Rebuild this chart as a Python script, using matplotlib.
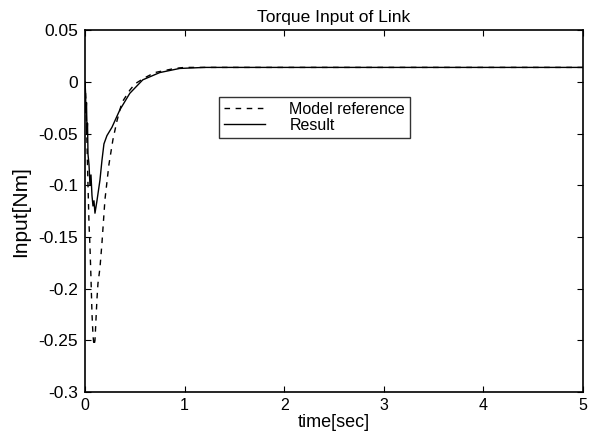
import matplotlib
matplotlib.use("Agg")
import matplotlib.pyplot as plt

plt.rcParams['font.family'] = ['Liberation Sans', 'DejaVu Sans']

t_model = [0, 0.01, 0.02, 0.03, 0.04, 0.05, 0.06, 0.07, 0.08, 0.09, 0.10, 0.11, 0.12, 0.13,
           0.15, 0.17, 0.2, 0.24, 0.28, 0.32, 0.37, 0.45, 0.5, 0.6, 0.7, 0.8, 0.9,
           1.0, 1.2, 5.0]
model = [0, -0.02, -0.06, -0.10, -0.137, -0.16, -0.19, -0.224, -0.245, -0.255, -0.25, -0.23,
         -0.21, -0.195, -0.18, -0.156, -0.114, -0.08, -0.056, -0.038, -0.02, -0.008,
         -0.002, 0.004, 0.009, 0.011, 0.013, 0.014, 0.014, 0.014]

t_result = [0, 0.005, 0.01, 0.015, 0.02, 0.025, 0.03, 0.04, 0.05, 0.06, 0.07, 0.08, 0.09,
            0.10, 0.12, 0.15, 0.17, 0.19, 0.22, 0.27, 0.35, 0.45, 0.58, 0.75, 0.95, 1.2, 5.0]
result = [0, -0.01, -0.03, -0.02, -0.05, -0.04, -0.07, -0.08, -0.10, -0.09, -0.11, -0.12,
          -0.115, -0.127, -0.115, -0.095, -0.076, -0.06, -0.052, -0.044, -0.027, -0.011,
          0.002, 0.009, 0.013, 0.014, 0.014]

xticks = [0, 1, 2, 3, 4, 5]
yticks = [0.05, 0, -0.05, -0.1, -0.15, -0.2, -0.25, -0.3]
ytick_labels = ['0.05', '0', '-0.05', '-0.1', '-0.15', '-0.2', '-0.25', '-0.3']

fig = plt.figure(figsize=(5.92, 4.44), dpi=100)
ax = fig.add_axes([0.1436, 0.117, 0.8414, 0.815])

ax.plot(t_model, model, color='black', linestyle=(0, (4, 4)), linewidth=1.0, label='Model reference')
ax.plot(t_result, result, color='black', linestyle='-', linewidth=1.0, label='Result')

ax.set_xlim(0, 5)
ax.set_ylim(-0.3, 0.05)
ax.set_xticks(xticks)
ax.set_yticks(yticks)
ax.set_yticklabels(ytick_labels)
ax.tick_params(direction='in', top=True, right=True, length=4)
ax.tick_params(axis='x', labelsize=11.5, pad=4)
ax.tick_params(axis='y', labelsize=12.5, pad=5)
for s in ax.spines.values():
    s.set_linewidth(1.2)

ax.set_title('Torque Input of Link', fontsize=12.5, pad=6)
ax.set_xlabel('time[sec]', fontsize=13, labelpad=1)
ax.set_ylabel('Input[Nm]', fontsize=15, labelpad=6)

leg = ax.legend(loc='upper left', bbox_to_anchor=(0.269, 0.815), frameon=True, fancybox=False,
                edgecolor='black', fontsize=11.5, handlelength=2.6, borderpad=0.3,
                labelspacing=0.05, handletextpad=1.5, borderaxespad=0)
leg.get_frame().set_linewidth(1.0)

fig.savefig('out.png', dpi=100)
